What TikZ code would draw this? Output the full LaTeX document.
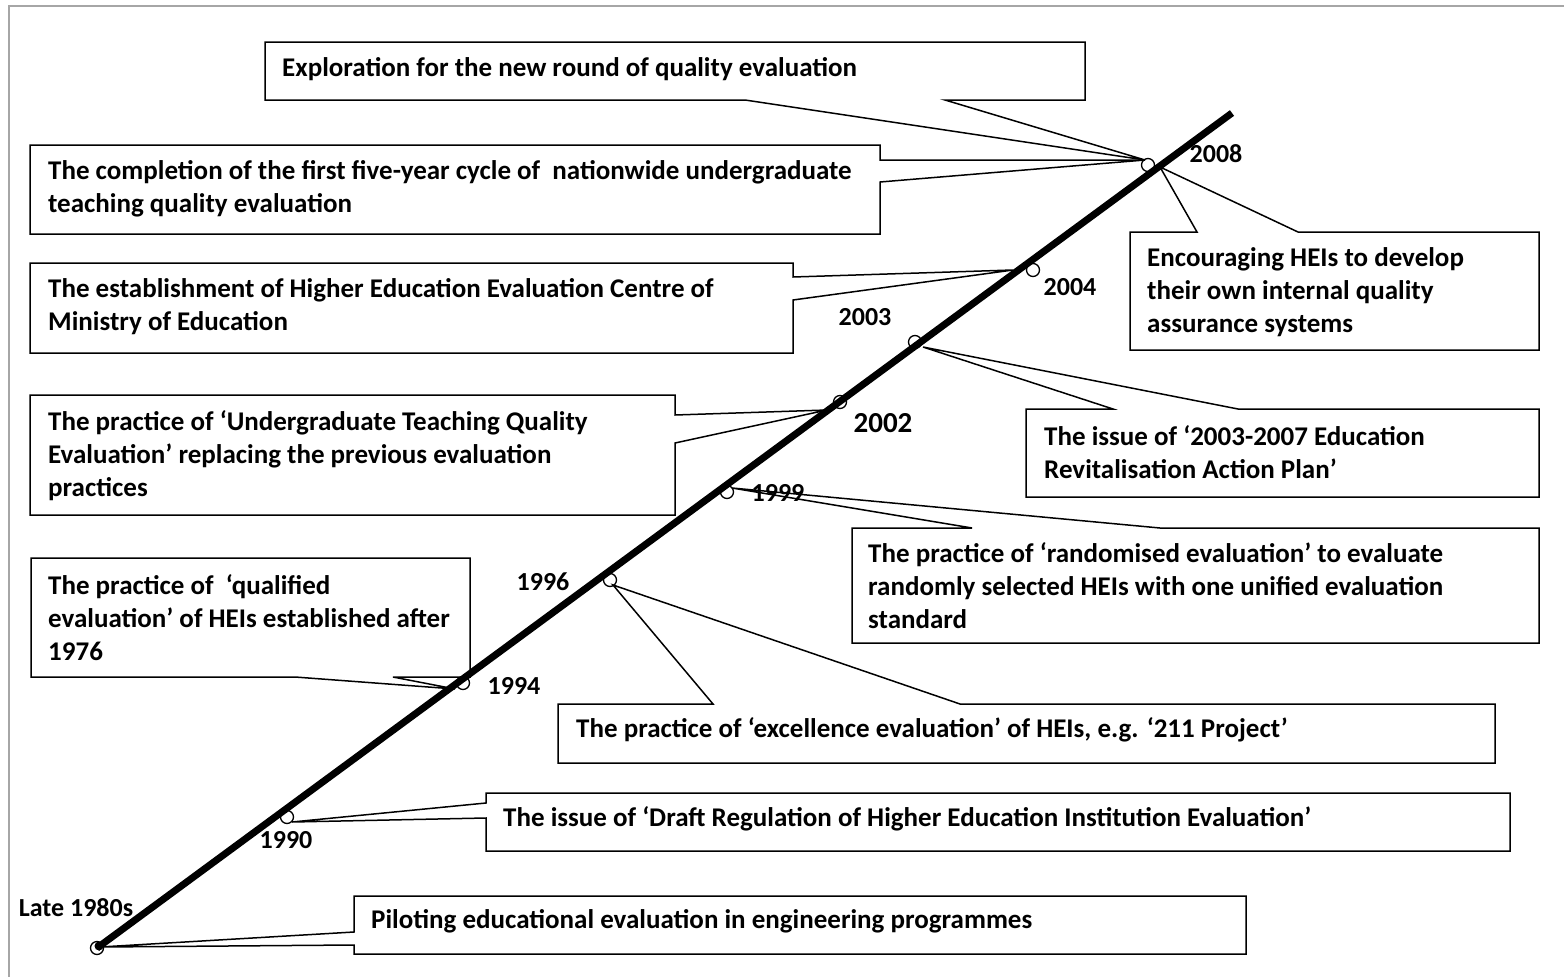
\documentclass[tikz,border=0pt]{standalone}
\usepackage{fontspec}
\setmainfont{Carlito}

\tikzset{
  callout/.style={draw, line width=1.5pt, line join=miter},
  txt/.style={anchor=west, align=left, inner sep=0pt,
    font=\bfseries\fontsize{27}{33}\selectfont},
  yr/.style={inner sep=0pt, font=\bfseries\fontsize{26}{30}\selectfont},
  mark circle/.style={draw, line width=1.3pt, circle, minimum size=13pt, inner sep=0pt}
}

\begin{document}
\begin{tikzpicture}[x=1pt,y=-1pt]
   \useasboundingbox (0,0) rectangle (1564,977);
   \draw[gray!70, line width=1.5pt] (9,977) -- (9,6) -- (1564,6);

   % tips of the callouts on the time line
   \coordinate (t2008a) at (1145,160);
   \coordinate (t2008b) at (1160,167);
   \coordinate (t2004) at (1013,270);
   \coordinate (t2003) at (923,347);
   \coordinate (t2002) at (827,410);
   \coordinate (t1999) at (732,488);
   \coordinate (t1996) at (613,585);
   \coordinate (t1994) at (455,689);
   \coordinate (t1990) at (292,822);
   \coordinate (tlate) at (100,947);

   % callout boxes
   \draw[callout] (265,42) -- (1085,42) -- (1085,100) -- (945,100) -- (t2008a)
     -- (745,100) -- (265,100) -- cycle;
   \draw[callout] (30,145) -- (880,145) -- (880,160) -- (t2008a)
     -- (880,182) -- (880,234) -- (30,234) -- cycle;
   \draw[callout] (1130,232) -- (1197,232) -- (t2008b) -- (1298,232)
     -- (1539,232) -- (1539,350) -- (1130,350) -- cycle;
   \draw[callout] (30,263) -- (793,263) -- (793,277) -- (t2004)
     -- (793,300) -- (793,353) -- (30,353) -- cycle;
   \draw[callout] (30,395) -- (675,395) -- (675,415) -- (t2002)
     -- (675,443) -- (675,515) -- (30,515) -- cycle;
   \draw[callout] (1026,409) -- (1113,409) -- (t2003) -- (1238,409)
     -- (1539,409) -- (1539,497) -- (1026,497) -- cycle;
   \draw[callout] (852,528) -- (972,528) -- (t1999) -- (1160,528)
     -- (1539,528) -- (1539,643) -- (852,643) -- cycle;
   \draw[callout] (31,558) -- (470,558) -- (470,677) -- (393,677) -- (t1994)
     -- (295,677) -- (31,677) -- cycle;
   \draw[callout] (558,704) -- (713,704) -- (t1996) -- (960,704)
     -- (1495,704) -- (1495,763) -- (558,763) -- cycle;
   \draw[callout] (486,793) -- (1510,793) -- (1510,851) -- (486,851)
     -- (486,818) -- (t1990) -- (486,803) -- cycle;
   \draw[callout] (354,896) -- (1246,896) -- (1246,954) -- (354,954)
     -- (354,945) -- (tlate) -- (354,932) -- cycle;

   % texts
   \node[txt] (explore) at (282,69) {Exploration for the new round of quality evaluation};
   \node[txt] (complete) at (48,189) {The completion of the first five-year cycle of \ nationwide undergraduate\\teaching quality evaluation};
   \node[txt] (encourage) at (1147,292) {Encouraging HEIs to develop\\their own internal quality\\assurance systems};
   \node[txt] (centre) at (48,307) {The establishment of Higher Education Evaluation Centre of\\Ministry of Education};
   \node[txt] (utqe) at (48,456) {The practice of ‘Undergraduate Teaching Quality\\Evaluation’ replacing the previous evaluation\\practices};
   \node[txt] (plan) at (1044,452) {The issue of ‘2003-2007 Education\\Revitalisation Action Plan’};
   \node[txt] (random) at (868,586) {The practice of ‘randomised evaluation’ to evaluate\\randomly selected HEIs with one unified evaluation\\standard};
   \node[txt] (qualified) at (48,618) {The practice of \ ‘qualified\\evaluation’ of HEIs established after\\1976};
   \node[txt] (excellence) at (576,730) {The practice of ‘excellence evaluation’ of HEIs, e.g. ‘211 Project’};
   \node[txt] (draft) at (503,819) {The issue of ‘Draft Regulation of Higher Education Institution Evaluation’};
   \node[txt] (pilot) at (371,921) {Piloting educational evaluation in engineering programmes};

   % time line
   \draw[line width=7pt] (97,948) -- (1232,113);
   \foreach \p in {(1148,165),(1033,270),(915,342),(840,402),(727,492),
                   (610,580),(463,683),(287,817),(97,948)}
     \node[mark circle] at \p {};
   \fill (99,946) circle (4.5pt);

   % years
   \node[yr] (y2008) at (1216,154) {2008};
   \node[yr] (y2004) at (1070,287) {2004};
   \node[yr] (y2003) at (865,317) {2003};
   \node[yr, font=\bfseries\fontsize{29}{33}\selectfont] (y2002) at (883,423) {2002};
   \node[yr] (y1999) at (778,493) {1999};
   \node[yr] (y1996) at (543,582) {1996};
   \node[yr] (y1994) at (514,686) {1994};
   \node[yr] (y1990) at (286,840) {1990};
   \node[yr] (ylate) at (76,908) {Late 1980s};
 \end{tikzpicture}
\end{document}
